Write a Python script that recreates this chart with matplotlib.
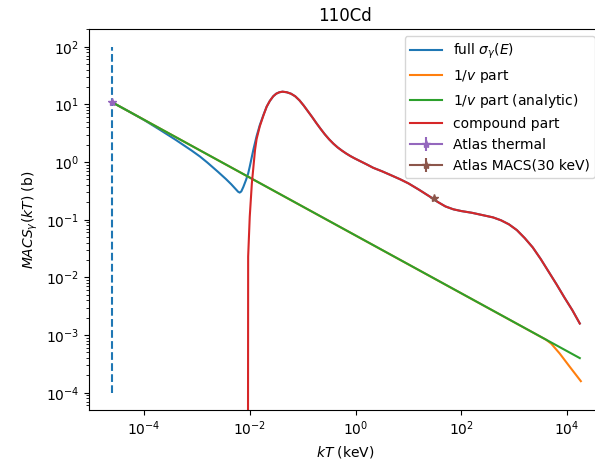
import numpy as np
import matplotlib
matplotlib.use("Agg")
import matplotlib.pyplot as plt
from matplotlib.ticker import NullLocator

# values (log10 of kT in keV, log10 of MACS in b)
full_lx = [-4.61, -4.30, -4.00, -3.70, -3.40, -3.10, -2.94, -2.80, -2.60, -2.45, -2.35,
           -2.27, -2.22, -2.19, -2.16, -2.12, -2.07, -2.03, -2.00, -1.93, -1.87,
           -1.81, -1.74, -1.68, -1.62, -1.556, -1.50, -1.44, -1.38, -1.30, -1.22,
           -1.14, -1.06, -0.98, -0.90, -0.82, -0.74, -0.66, -0.58, -0.50, -0.42,
           -0.34, -0.26, -0.18, -0.10, -0.02, 0.10, 0.22, 0.335, 0.50, 0.65,
           0.846, 1.00, 1.20, 1.406, 1.55, 1.70, 1.85, 2.00, 2.20, 2.40,
           2.60, 2.75, 2.90, 3.05, 3.20, 3.35, 3.50, 3.65, 3.80, 3.95,
           4.10, 4.24]
full_ly = [1.04, 0.885, 0.73, 0.56, 0.385, 0.20, 0.095, -0.01, -0.17, -0.295, -0.385,
           -0.465, -0.515, -0.53, -0.51, -0.43, -0.31, -0.20, -0.08, 0.22, 0.45,
           0.64, 0.82, 0.96, 1.06, 1.14, 1.185, 1.21, 1.22, 1.21, 1.185,
           1.14, 1.07, 0.98, 0.88, 0.78, 0.675, 0.575, 0.48, 0.395, 0.32,
           0.255, 0.20, 0.15, 0.105, 0.065, 0.01, -0.045, -0.10, -0.16, -0.22,
           -0.30, -0.37, -0.48, -0.60, -0.69, -0.77, -0.82, -0.85, -0.88, -0.92,
           -0.96, -1.01, -1.08, -1.18, -1.32, -1.48, -1.68, -1.90, -2.12, -2.35,
           -2.57, -2.80]

onev_lx = [-4.61, 3.60, 3.70, 3.86, 4.05, 4.26]
onev_ly = [1.04, -3.08, -3.15, -3.32, -3.55, -3.80]

analytic_lx = [-4.61, 4.24]
analytic_ly = [1.04, -3.40]

comp_lx = [-2.035, -2.03, -2.00, -1.96, -1.90, -1.87, -1.81, -1.74, -1.68, -1.62,
           -1.556, -1.50, -1.44, -1.38, -1.30, -1.22, -1.14, -1.06, -0.98, -0.90,
           -0.82, -0.74, -0.66, -0.58, -0.50, -0.42, -0.34, -0.26, -0.18, -0.10,
           -0.02, 0.10, 0.22, 0.335, 0.50, 0.65, 0.846, 1.00, 1.20, 1.406,
           1.55, 1.70, 1.85, 2.00, 2.20, 2.40, 2.60, 2.75, 2.90, 3.05,
           3.20, 3.35, 3.50, 3.65, 3.80, 3.95, 4.10, 4.24]
comp_ly = [-7.0, -1.64, -0.95, -0.37, 0.21, 0.40, 0.62, 0.81, 0.96, 1.06,
           1.14, 1.185, 1.21, 1.22, 1.21, 1.185, 1.14, 1.07, 0.98, 0.88,
           0.78, 0.675, 0.575, 0.48, 0.395, 0.32, 0.255, 0.20, 0.15, 0.105,
           0.065, 0.01, -0.045, -0.10, -0.16, -0.22, -0.30, -0.37, -0.48, -0.60,
           -0.69, -0.77, -0.82, -0.85, -0.88, -0.92, -0.96, -1.01, -1.08, -1.18,
           -1.32, -1.48, -1.68, -1.90, -2.12, -2.35, -2.57, -2.80]

thermal_kT = 2.45e-5
thermal_val = 11.0
thermal_err = 0.3
macs30_kT = 30.0
macs30_val = 0.237
macs30_err = 0.005
vline_lo, vline_hi = 1e-4, 1e2

def p(a):
    return 10 ** np.array(a)

fig = plt.figure(figsize=(5.95, 4.65), dpi=100)
ax = fig.add_axes([89 / 595, 55 / 465, (602 - 89) / 595, (410 - 29) / 465])

ax.vlines(thermal_kT, vline_lo, vline_hi, linestyles='dashed', colors='C0')
ax.plot(p(full_lx), p(full_ly), label=r'full $\sigma_\gamma(E)$')
ax.plot(p(onev_lx), p(onev_ly), label=r'$1/v$ part')
ax.plot(p(analytic_lx), p(analytic_ly), label=r'$1/v$ part (analytic)')
ax.plot(p(comp_lx), p(comp_ly), label='compound part')
ax.errorbar([thermal_kT], [thermal_val], yerr=[thermal_err], marker='*',
            color='C4', label='Atlas thermal')
ax.errorbar([macs30_kT], [macs30_val], yerr=[macs30_err], marker='*',
            color='C5', label='Atlas MACS(30 keV)')

ax.set_xscale('log')
ax.set_yscale('log')
ax.set_xlim(10 ** -5.039, 10 ** 4.66)
ax.set_ylim(10 ** -4.30, 10 ** 2.307)
ax.xaxis.set_minor_locator(NullLocator())
ax.set_xlabel(r'$kT$ (keV)')
ax.set_ylabel(r'$MACS_\gamma(kT)$ (b)')
ax.set_title('110Cd')
ax.legend(loc='upper right', handlelength=2.25)

fig.savefig('out.png', dpi=100)
